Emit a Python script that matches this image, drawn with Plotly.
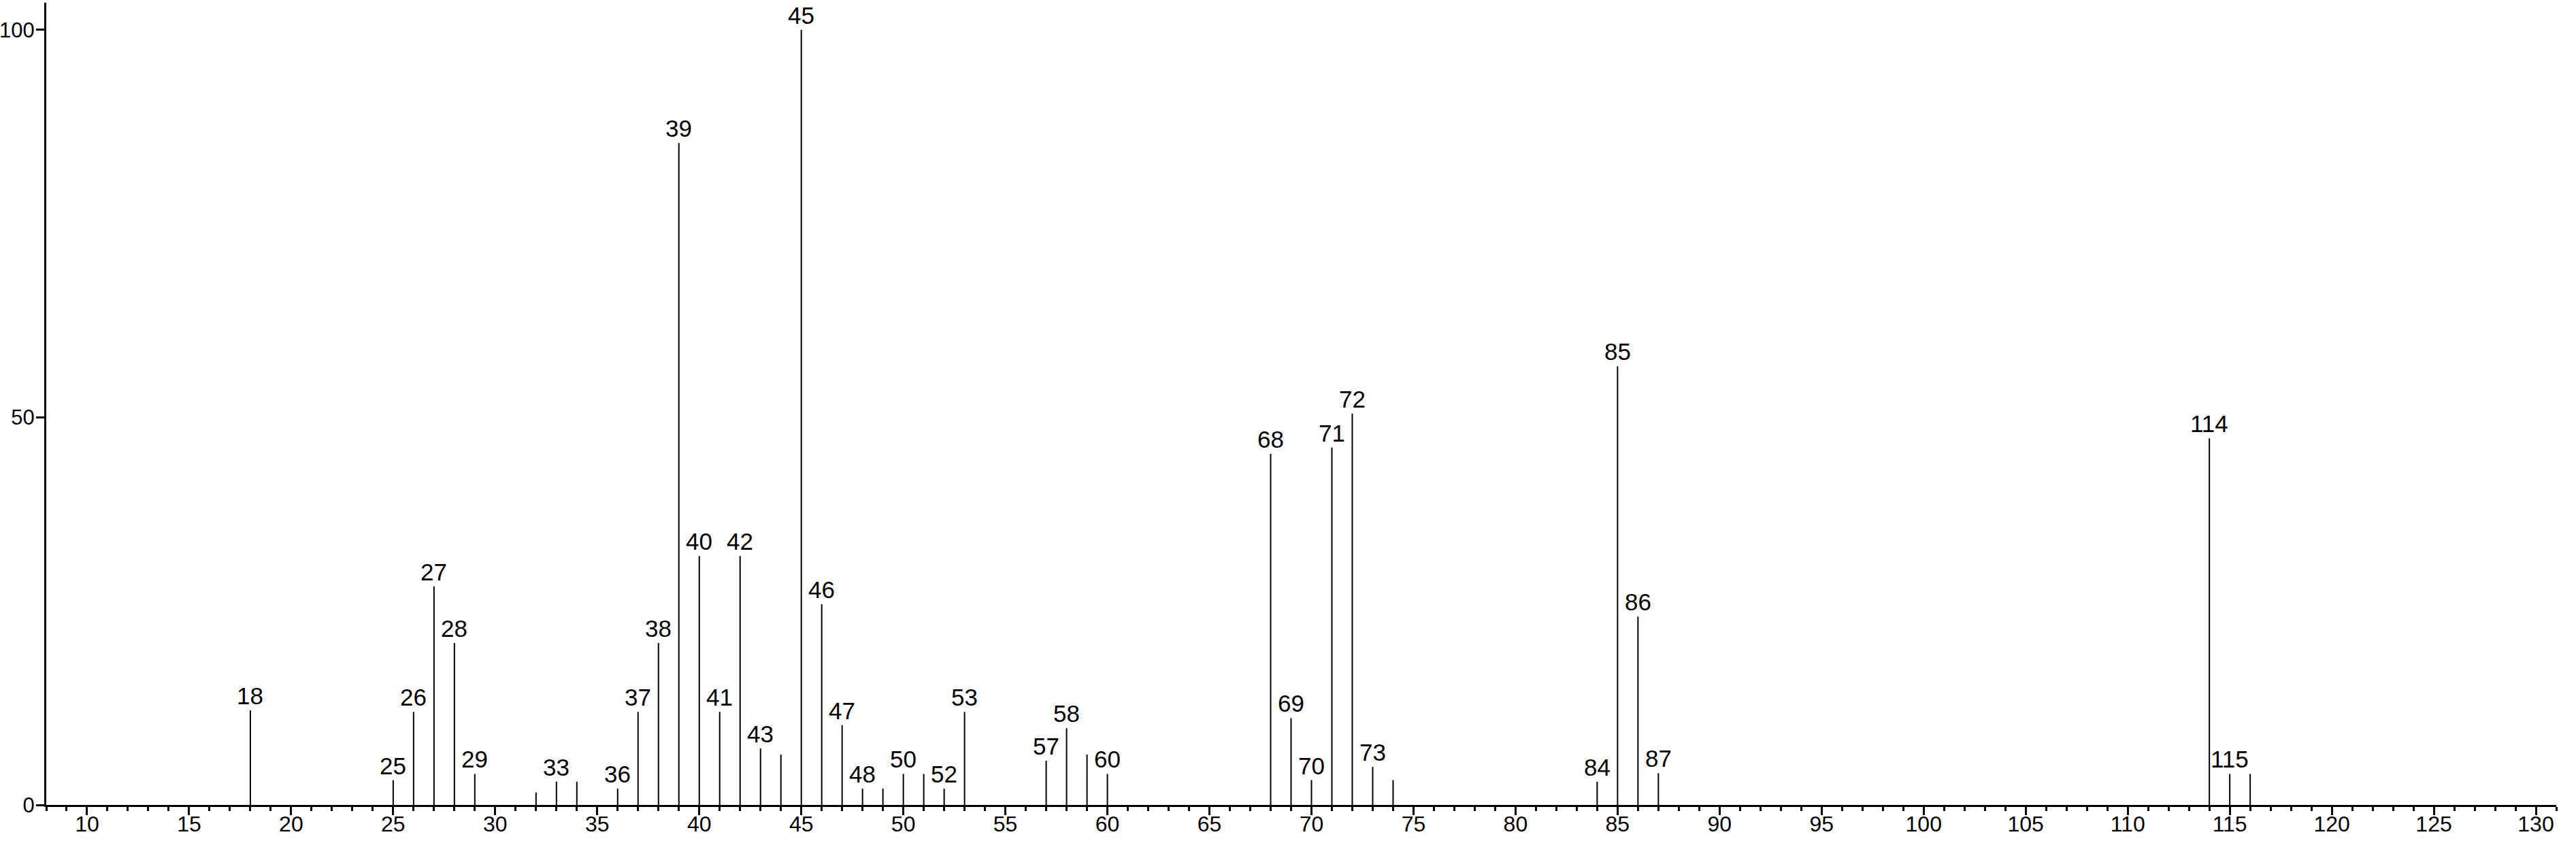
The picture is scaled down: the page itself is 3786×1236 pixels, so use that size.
import plotly.graph_objects as go

# m/z values and relative intensities
mz = [18, 25, 26, 27, 28, 29, 32, 33, 34, 36, 37, 38, 39, 40, 41, 42, 43, 44,
      45, 46, 47, 48, 49, 50, 51, 52, 53, 57, 58, 59, 60, 68, 69, 70, 71, 72,
      73, 74, 84, 85, 86, 87, 114, 115, 116]
intensity = [12.2, 3.2, 12.0, 28.2, 20.9, 4.0, 1.6, 3.0, 3.0, 2.1, 12.0, 20.9,
             85.4, 32.1, 12.0, 32.1, 7.3, 6.5, 100.0, 25.9, 10.3, 2.1, 2.1,
             4.0, 4.0, 2.1, 12.0, 5.7, 9.9, 6.5, 4.0, 45.3, 11.2, 3.2, 46.1,
             50.5, 4.9, 3.2, 3.0, 56.6, 24.3, 4.1, 47.3, 4.0, 4.0]
# peaks that carry a text label
labeled = [18, 25, 26, 27, 28, 29, 33, 36, 37, 38, 39, 40, 41, 42, 43, 45, 46,
           47, 48, 50, 52, 53, 57, 58, 60, 68, 69, 70, 71, 72, 73, 84, 85, 86,
           87, 114, 115]

x_ticks = list(range(10, 131, 5))
y_ticks = [0, 50, 100]

FONT = "Liberation Sans, Arial, Helvetica, sans-serif"

xs, ys = [], []
for m, v in zip(mz, intensity):
    xs += [m, m, None]
    ys += [0, v, None]

fig = go.Figure()
fig.add_trace(go.Scatter(x=xs, y=ys, mode="lines",
                         line=dict(color="black", width=2),
                         hoverinfo="skip", showlegend=False))

lookup = dict(zip(mz, intensity))
for m in labeled:
    fig.add_annotation(x=m, y=lookup[m], text=str(m), showarrow=False,
                       xanchor="center", yanchor="bottom", yshift=0,
                       font=dict(family=FONT, size=35, color="black"))

fig.update_layout(
    width=3786, height=1236,
    margin=dict(l=68, r=29, t=4, b=53, autoexpand=False),
    paper_bgcolor="white", plot_bgcolor="white",
    font=dict(family=FONT, size=35, color="black"),
    showlegend=False,
)
fig.update_xaxes(
    range=[8, 131], showgrid=False, zeroline=False, automargin=False,
    showline=True, linecolor="black", linewidth=3,
    tickmode="array", tickvals=x_ticks, ticktext=[str(t) for t in x_ticks],
    ticks="outside", ticklen=12, tickwidth=3, tickcolor="black",
    ticklabelstandoff=-14,
    minor=dict(dtick=1, tick0=0, ticks="outside", ticklen=6, tickwidth=3,
               tickcolor="black", showgrid=False),
    tickfont=dict(family=FONT, size=32, color="black"),
)
fig.update_yaxes(
    range=[0, 103.5], showgrid=False, zeroline=False, automargin=False,
    showline=True, linecolor="black", linewidth=3,
    tickmode="array", tickvals=y_ticks, ticktext=[str(t) for t in y_ticks],
    ticks="outside", ticklen=12, tickwidth=3, tickcolor="black",
    ticklabelstandoff=-4,
    tickfont=dict(family=FONT, size=31, color="black"),
)

fig.write_html(
    "out.html",
    config={"displayModeBar": False},
    post_script="document.body.style.margin='0';document.body.style.overflow='hidden';",
)
